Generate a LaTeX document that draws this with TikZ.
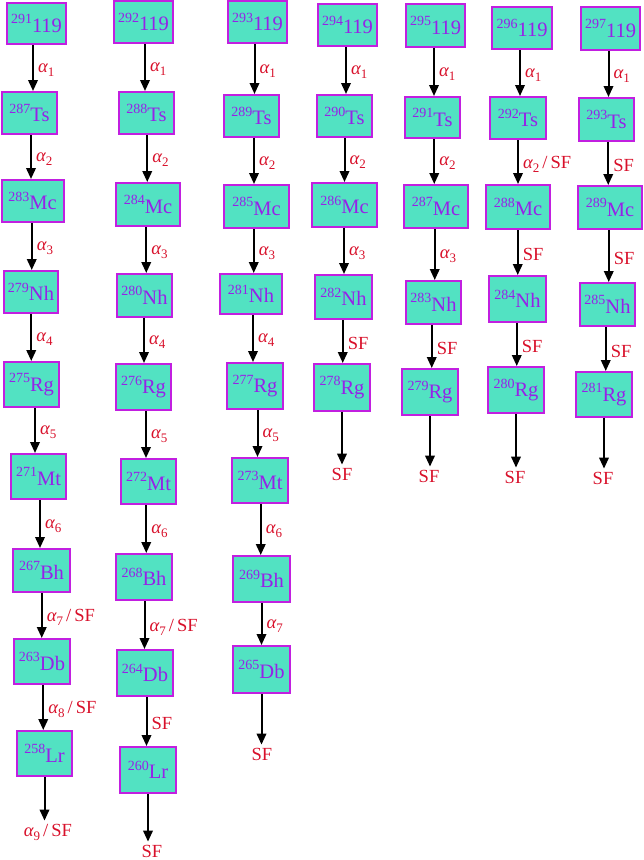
\documentclass[tikz,border=0pt]{standalone}
\usepackage{fontspec}
\setmainfont{Liberation Serif}
\usetikzlibrary{arrows.meta,calc}
\definecolor{boxfill}{RGB}{82,226,194}
\definecolor{boxdraw}{RGB}{194,31,224}
\definecolor{nucpurple}{RGB}{150,34,232}
\definecolor{labred}{RGB}{216,16,42}
\tikzset{
  nuc/.style={draw=boxdraw, fill=boxfill, line width=2pt, text=nucpurple,
    inner sep=0pt, font=\fontsize{20.5}{22}\selectfont},
  lab/.style={text=labred, inner sep=0pt, font=\fontsize{18.5}{20}\selectfont},
  arr/.style={line width=2pt, -{Triangle[length=11pt,width=9.5pt]}},
}
% \nucbox{name}{cx}{cy}{w}{h}{A}{El}
\newcommand\nucbox[7]{\node[nuc, minimum width=#4pt, minimum height=#5pt] (#1) at (#2,#3) {\raisebox{0.42em}{\fontsize{14}{14}\selectfont #6}#7};}
% \dk{from}{to}{labelname}{label}
\newcommand\dk[4]{%
  \coordinate (#3m) at ($(#1.south)!.5!(#2.north)$);
  \draw[arr] (#3m |- #1.south) -- (#3m |- #2.north);
  \node[lab, anchor=west] (#3) at ([xshift=5pt,yshift=-2pt]#3m) {#4};}
% \dkend{from}{labelname}{x}{y}{label}
\newcommand\dkend[5]{%
  \node[lab] (#2) at (#3,#4) {#5};
  \draw[arr, shorten >=3pt] (#1.south) -- (#1.south |- #2.north);}
\newcommand\al[1]{{\itshape α}\raisebox{-0.22em}{\fontsize{13}{13}\selectfont #1}}
\newcommand\alsf[1]{\al{#1}\,/\,SF}
\begin{document}
\begin{tikzpicture}[x=1pt,y=-1pt]
\useasboundingbox (0,0) rectangle (643,860);
% column 1
\nucbox{a1}{36.5}{23.5}{59}{41}{291}{119}
\nucbox{a2}{29.5}{113}{55}{42}{287}{Ts}
\nucbox{a3}{32.5}{201}{62}{42}{283}{Mc}
\nucbox{a4}{31}{292}{54}{42}{279}{Nh}
\nucbox{a5}{31.5}{384.5}{55}{45}{275}{Rg}
\nucbox{a6}{38.5}{476.5}{55}{45}{271}{Mt}
\nucbox{a7}{41.5}{570.5}{57}{43}{267}{Bh}
\nucbox{a8}{42}{661.5}{56}{45}{263}{Db}
\nucbox{a9}{44.5}{753.5}{55}{45}{258}{Lr}
\dk{a1}{a2}{la1}{\al1}
\dk{a2}{a3}{la2}{\al2}
\dk{a3}{a4}{la3}{\al3}
\dk{a4}{a5}{la4}{\al4}
\dk{a5}{a6}{la5}{\al5}
\dk{a6}{a7}{la6}{\al6}
\dk{a7}{a8}{la7}{\alsf7}
\dk{a8}{a9}{la8}{\alsf8}
\dkend{a9}{la9}{48}{832}{\alsf9}
% column 2
\nucbox{b1}{143.5}{22}{59}{42}{292}{119}
\nucbox{b2}{146.5}{113}{55}{42}{288}{Ts}
\nucbox{b3}{148}{204.5}{64}{43}{284}{Mc}
\nucbox{b4}{144.5}{295.5}{55}{43}{280}{Nh}
\nucbox{b5}{143.5}{387}{55}{46}{276}{Rg}
\nucbox{b6}{148.5}{481.5}{55}{45}{272}{Mt}
\nucbox{b7}{144}{577}{56}{46}{268}{Bh}
\nucbox{b8}{145}{673}{56}{46}{264}{Db}
\nucbox{b9}{148}{770}{56}{46}{260}{Lr}
\dk{b1}{b2}{lb1}{\al1}
\dk{b2}{b3}{lb2}{\al2}
\dk{b3}{b4}{lb3}{\al3}
\dk{b4}{b5}{lb4}{\al4}
\dk{b5}{b6}{lb5}{\al5}
\dk{b6}{b7}{lb6}{\al6}
\dk{b7}{b8}{lb7}{\alsf7}
\dk{b8}{b9}{lb8}{SF}
\dkend{b9}{lb9}{152}{851}{SF}
% column 3
\nucbox{c1}{257.5}{22}{59}{42}{293}{119}
\nucbox{c2}{251.5}{116}{55}{42}{289}{Ts}
\nucbox{c3}{256.5}{206.5}{65}{43}{285}{Mc}
\nucbox{c4}{251}{294}{62}{40}{281}{Nh}
\nucbox{c5}{255}{386}{56}{46}{277}{Rg}
\nucbox{c6}{260}{480.5}{56}{45}{273}{Mt}
\nucbox{c7}{261.5}{579}{57}{46}{269}{Bh}
\nucbox{c8}{261.5}{669.5}{57}{47}{265}{Db}
\dk{c1}{c2}{lc1}{\al1}
\dk{c2}{c3}{lc2}{\al2}
\dk{c3}{c4}{lc3}{\al3}
\dk{c4}{c5}{lc4}{\al4}
\dk{c5}{c6}{lc5}{\al5}
\dk{c6}{c7}{lc6}{\al6}
\dk{c7}{c8}{lc7}{\al7}
\dkend{c8}{lc8}{262}{754}{SF}
% column 4
\nucbox{d1}{347.5}{25}{59}{42}{294}{119}
\nucbox{d2}{344.5}{116}{55}{42}{290}{Ts}
\nucbox{d3}{344.5}{205}{65}{44}{286}{Mc}
\nucbox{d4}{343.5}{297}{57}{44}{282}{Nh}
\nucbox{d5}{342}{387.5}{56}{47}{278}{Rg}
\dk{d1}{d2}{ld1}{\al1}
\dk{d2}{d3}{ld2}{\al2}
\dk{d3}{d4}{ld3}{\al3}
\dk{d4}{d5}{ld4}{SF}
\dkend{d5}{ld5}{342}{474}{SF}
% column 5
\nucbox{e1}{435.5}{25.5}{59}{43}{295}{119}
\nucbox{e2}{432.5}{117.5}{55}{41}{291}{Ts}
\nucbox{e3}{436}{206.5}{64}{43}{287}{Mc}
\nucbox{e4}{433.5}{302.5}{55}{43}{283}{Nh}
\nucbox{e5}{430}{392}{56}{46}{279}{Rg}
\dk{e1}{e2}{le1}{\al1}
\dk{e2}{e3}{le2}{\al2}
\dk{e3}{e4}{le3}{\al3}
\dk{e4}{e5}{le4}{SF}
\dkend{e5}{le5}{429}{476}{SF}
% column 6
\nucbox{f1}{522}{28}{60}{42}{296}{119}
\nucbox{f2}{518}{118}{56}{42}{292}{Ts}
\nucbox{f3}{518}{207}{64}{44}{288}{Mc}
\nucbox{f4}{517.5}{299}{57}{46}{284}{Nh}
\nucbox{f5}{516}{390}{56}{46}{280}{Rg}
\dk{f1}{f2}{lf1}{\al1}
\dk{f2}{f3}{lf2}{\alsf2}
\dk{f3}{f4}{lf3}{SF}
\dk{f4}{f5}{lf4}{SF}
\dkend{f5}{lf5}{515}{477}{SF}
% column 7
\nucbox{g1}{610.5}{28.5}{59}{43}{297}{119}
\nucbox{g2}{606.5}{119.5}{55}{43}{293}{Ts}
\nucbox{g3}{610}{207.5}{64}{43}{289}{Mc}
\nucbox{g4}{607.5}{304.5}{55}{43}{285}{Nh}
\nucbox{g5}{604}{394.5}{56}{45}{281}{Rg}
\dk{g1}{g2}{lg1}{\al1}
\dk{g2}{g3}{lg2}{SF}
\dk{g3}{g4}{lg3}{SF}
\dk{g4}{g5}{lg4}{SF}
\dkend{g5}{lg5}{603}{478}{SF}
\end{tikzpicture}
\end{document}
